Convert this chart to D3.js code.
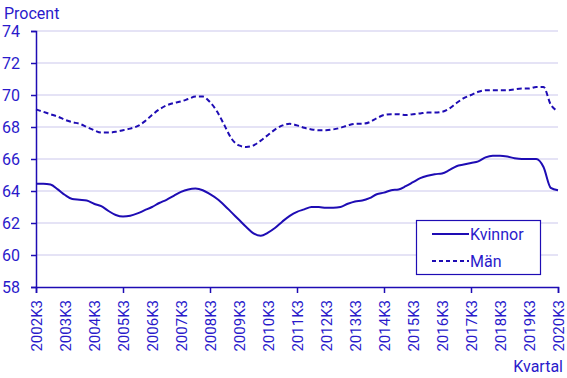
<!DOCTYPE html>
<html>
<head>
<meta charset="utf-8">
<script src="https://cdn.jsdelivr.net/npm/d3@7"></script>
<style>
  body { margin: 0; background: #fff; }
  text { font-family: Roboto, "Noto Sans", sans-serif; }
</style>
</head>
<body>
<div id="chart"></div>
<script>
// quarters 2002K3 .. 2020K3
let quarters = [];
for (let y = 2002; y <= 2020; y++) {
  for (let q = 1; q <= 4; q++) {
    if ((y == 2002 && q < 3) || (y == 2020 && q > 3)) continue;
    quarters.push(y + "K" + q);
  }
}

let kvinnor = [64.45, 64.45, 64.4, 64.1, 63.75, 63.5, 63.45, 63.4, 63.2, 63.05,
  62.75, 62.5, 62.4, 62.45, 62.6, 62.8, 63.0, 63.25, 63.45, 63.7,
  63.95, 64.1, 64.15, 64.05, 63.8, 63.5, 63.1, 62.65, 62.2, 61.75,
  61.35, 61.2, 61.4, 61.7, 62.1, 62.45, 62.7, 62.85, 63.0, 63.0,
  62.95, 62.95, 63.0, 63.2, 63.35, 63.4, 63.55, 63.8, 63.9, 64.05,
  64.1, 64.3, 64.55, 64.8, 64.95, 65.05, 65.1, 65.3, 65.55, 65.65,
  65.75, 65.85, 66.1, 66.2, 66.2, 66.15, 66.05, 66.0, 66.0, 66.0,
  65.5, 64.2, 64.05];

let man = [69.1, 68.95, 68.8, 68.65, 68.45, 68.3, 68.2, 68.0, 67.8, 67.65,
  67.65, 67.7, 67.8, 67.9, 68.05, 68.35, 68.75, 69.1, 69.35, 69.5,
  69.6, 69.75, 69.9, 69.9, 69.55, 68.95, 68.1, 67.25, 66.85, 66.75,
  66.85, 67.15, 67.5, 67.85, 68.1, 68.2, 68.1, 67.95, 67.85, 67.8,
  67.8, 67.85, 67.95, 68.1, 68.2, 68.2, 68.3, 68.55, 68.75, 68.8,
  68.8, 68.75, 68.8, 68.85, 68.9, 68.9, 68.95, 69.15, 69.5, 69.8,
  70.0, 70.2, 70.3, 70.3, 70.3, 70.3, 70.35, 70.4, 70.4, 70.5,
  70.5, 69.4, 69.0];

let yTicks = [58, 60, 62, 64, 66, 68, 70, 72, 74];
let xLabels = quarters.filter(function (d) { return d.endsWith("K3"); });
let xTickMarks = ["2002K3", "2005K3", "2008K3", "2011K3", "2014K3", "2017K3", "2020K3"];

let w = 567;
let h = 378;
let plotLeft = 36, plotRight = 558, plotTop = 31, plotBottom = 287;
let blue = "#1e0cb4";
let textBlue = "#2a1acb";
let grid = "#cbc7ec";

let viz = d3.select("#chart")
  .append("svg")
  .attr("width", w)
  .attr("height", h);

let xScale = d3.scalePoint()
  .domain(quarters)
  .range([plotLeft, plotRight]);

let yScale = d3.scaleLinear()
  .domain([58, 74])
  .range([plotBottom, plotTop]);

// grid lines
viz.append("g")
  .selectAll("line")
  .data(yTicks.slice(1))
  .enter()
  .append("line")
  .attr("x1", plotLeft)
  .attr("x2", plotRight)
  .attr("y1", function (d) { return yScale(d); })
  .attr("y2", function (d) { return yScale(d); })
  .attr("stroke", grid)
  .attr("stroke-width", 1);

// y axis
let yAxis = d3.axisLeft(yScale).tickValues(yTicks).tickSize(5).tickPadding(11);
let yAxisGroup = viz.append("g")
  .attr("transform", "translate(" + plotLeft + ",0)")
  .call(yAxis);
yAxisGroup.select(".domain").attr("stroke", blue).attr("stroke-width", 1.5);
yAxisGroup.selectAll(".tick line").attr("stroke", blue).attr("stroke-width", 1.5);
yAxisGroup.selectAll("text")
  .attr("fill", textBlue)
  .attr("font-size", 16)
  .attr("font-family", "Roboto, sans-serif");

// x axis
let xAxis = d3.axisBottom(xScale).tickValues(xTickMarks).tickSize(6).tickFormat("");
let xAxisGroup = viz.append("g")
  .attr("transform", "translate(0," + plotBottom + ")")
  .call(xAxis);
xAxisGroup.select(".domain").attr("stroke", blue).attr("stroke-width", 1.5);
xAxisGroup.selectAll(".tick line").attr("stroke", blue).attr("stroke-width", 1.5);

// rotated year labels
viz.append("g")
  .selectAll("text")
  .data(xLabels)
  .enter()
  .append("text")
  .attr("transform", function (d) {
    return "translate(" + (xScale(d) + 5.5) + "," + (plotBottom + 13) + ") rotate(-90)";
  })
  .attr("text-anchor", "end")
  .attr("font-size", 15)
  .attr("fill", textBlue)
  .text(function (d) { return d; });

// axis titles
viz.append("text")
  .attr("x", 4)
  .attr("y", 19)
  .attr("font-size", 16)
  .attr("fill", textBlue)
  .text("Procent");
viz.append("text")
  .attr("x", 563)
  .attr("y", 372)
  .attr("text-anchor", "end")
  .attr("font-size", 16)
  .attr("fill", textBlue)
  .text("Kvartal");

// lines
let line = function (values) {
  return d3.line()
    .x(function (d, i) { return xScale(quarters[i]); })
    .y(function (d) { return yScale(d); })
    .curve(d3.curveMonotoneX)(values);
};

viz.append("path")
  .attr("d", line(kvinnor))
  .attr("fill", "none")
  .attr("stroke", blue)
  .attr("stroke-width", 2);

viz.append("path")
  .attr("d", line(man))
  .attr("fill", "none")
  .attr("stroke", blue)
  .attr("stroke-width", 2)
  .attr("stroke-dasharray", "5,3");

// legend
let legend = viz.append("g");
legend.append("rect")
  .attr("x", 416.5)
  .attr("y", 220.5)
  .attr("width", 124)
  .attr("height", 54)
  .attr("fill", "#fff")
  .attr("stroke", blue)
  .attr("stroke-width", 1.2);
let legendItems = [{ name: "Kvinnor", dash: null }, { name: "Män", dash: "4,3" }];
legendItems.forEach(function (d, i) {
  let y = 234 + i * 27;
  legend.append("line")
    .attr("x1", 432)
    .attr("x2", 469)
    .attr("y1", y)
    .attr("y2", y)
    .attr("stroke", blue)
    .attr("stroke-width", 2)
    .attr("stroke-dasharray", d.dash);
  legend.append("text")
    .attr("x", 470)
    .attr("y", y + 6)
    .attr("font-size", 16)
    .attr("fill", textBlue)
    .text(d.name);
});
</script>
</body>
</html>
